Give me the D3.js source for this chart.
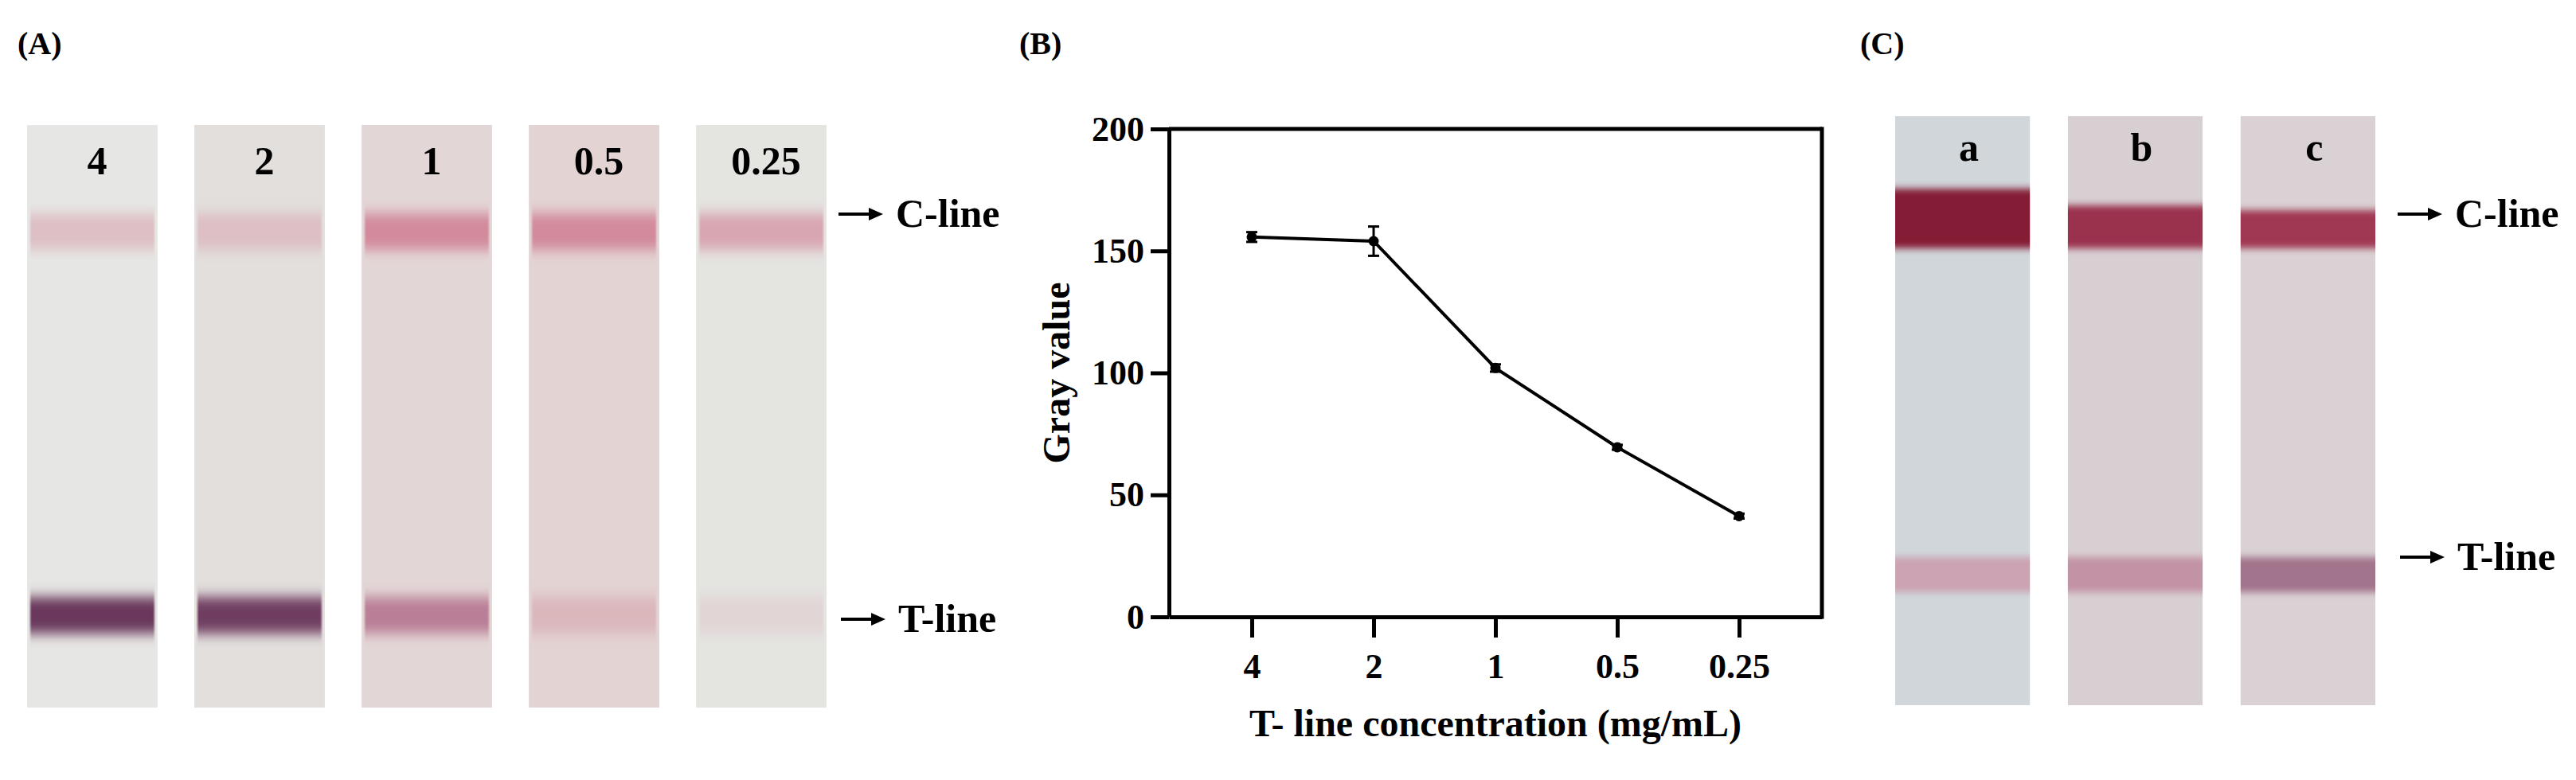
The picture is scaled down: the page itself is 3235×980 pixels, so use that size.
<!DOCTYPE html>
<html>
<head>
<meta charset="utf-8">
<script src="https://cdn.jsdelivr.net/npm/d3@7"></script>
<style>
  body { margin: 0; background: #fff; }
  text { font-family: "Liberation Serif", "Times New Roman", serif; font-weight: bold; fill: #000; }
</style>
</head>
<body>
<div id="fig"></div>
<script>
// Panel B data: gray value of the T-line per concentration
const concLabels = ["4", "2", "1", "0.5", "0.25"];
const grayValue = [155.7, 154, 102, 69.5, 41.3];
const grayErr = [2, 6, 1.5, 1, 1];
const yTicks = [0, 50, 100, 150, 200];

// Panel A strips: band intensity (0 = none, 1 = darkest)
const stripLabelsA = ["4", "2", "1", "0.5", "0.25"];
const cLineA = [0.2, 0.2, 0.62, 0.62, 0.4];
const tLineA = [0.95, 0.92, 0.55, 0.25, 0.05];

// Panel C strips
const stripLabelsC = ["a", "b", "c"];
const cLineC = [0.95, 0.74, 0.68];
const tLineC = [0.4, 0.55, 0.8];

const W = 3235, H = 980;

const svg = d3.select("#fig")
  .append("svg")
  .attr("width", W)
  .attr("height", H);

svg.append("rect").attr("width", W).attr("height", H).attr("fill", "#fff");

// soft vertical blur for the photographed bands
const defs = svg.append("defs");
defs.append("filter").attr("id", "softA")
  .attr("x", "-5%").attr("y", "-100%").attr("width", "110%").attr("height", "300%")
  .append("feGaussianBlur").attr("stdDeviation", "1 8");
defs.append("filter").attr("id", "softC")
  .attr("x", "-5%").attr("y", "-100%").attr("width", "110%").attr("height", "300%")
  .append("feGaussianBlur").attr("stdDeviation", "0.5 4");

// Panel labels
[["(A)", 22], ["(B)", 1280], ["(C)", 2336]].forEach(([t, x]) => {
  svg.append("text").attr("x", x).attr("y", 68).attr("font-size", 40).text(t);
});

// helper: arrow with label
function arrowLabel(x, y, label) {
  svg.append("line")
    .attr("x1", x).attr("x2", x + 40)
    .attr("y1", y).attr("y2", y)
    .attr("stroke", "#000").attr("stroke-width", 4);
  svg.append("path")
    .attr("d", `M${x + 56},${y} L${x + 38},${y - 8} L${x + 38},${y + 8} Z`)
    .attr("fill", "#000");
  svg.append("text")
    .attr("x", x + 72).attr("y", y + 16)
    .attr("font-size", 50)
    .text(label);
}

// ---------------- Panel A ----------------
const xA = d3.scaleBand()
  .domain(stripLabelsA)
  .range([34, 1038])
  .paddingInner(0.22);

const stripBgA = ["#e6e7e4", "#e2dfdd", "#e3d6d6", "#e3d3d3", "#e4e4e1"];

const cColorA = d3.scaleLinear().domain([0, 1]).range(["#e2d8d8", "#c85a78"]);
const tColorA = d3.scaleLinear()
  .domain([0, 0.3, 0.6, 1])
  .range(["#e3dcdc", "#d9b0b6", "#b47590", "#5e2f55"]);

const gA = svg.append("g");

gA.selectAll(".stripA")
  .data(stripLabelsA)
  .join("rect")
  .attr("class", "stripA")
  .attr("x", d => xA(d))
  .attr("y", 157)
  .attr("width", xA.bandwidth())
  .attr("height", 732)
  .attr("fill", (d, i) => stripBgA[i]);

gA.selectAll(".cA")
  .data(cLineA)
  .join("rect")
  .attr("class", "cA")
  .attr("x", (d, i) => xA(stripLabelsA[i]) + 4)
  .attr("y", 268)
  .attr("width", xA.bandwidth() - 8)
  .attr("height", 46)
  .attr("fill", d => cColorA(d))
  .attr("filter", "url(#softA)");

gA.selectAll(".tA")
  .data(tLineA)
  .join("rect")
  .attr("class", "tA")
  .attr("x", (d, i) => xA(stripLabelsA[i]) + 4)
  .attr("y", 750)
  .attr("width", xA.bandwidth() - 8)
  .attr("height", 46)
  .attr("fill", d => tColorA(d))
  .attr("filter", "url(#softA)");

gA.selectAll(".labA")
  .data(stripLabelsA)
  .join("text")
  .attr("class", "labA")
  .attr("x", d => xA(d) + xA.bandwidth() / 2 + 6)
  .attr("y", 219)
  .attr("text-anchor", "middle")
  .attr("font-size", 50)
  .text(d => d);

arrowLabel(1053, 269, "C-line");
arrowLabel(1056, 778, "T-line");

// ---------------- Panel B ----------------
const B = { left: 1468, right: 2288, top: 162, bottom: 775 };

const x = d3.scalePoint()
  .domain(concLabels)
  .range([B.left, B.right])
  .padding(0.68);

const y = d3.scaleLinear()
  .domain([0, 200])
  .range([B.bottom, B.top]);

const gB = svg.append("g");

// box top and right
gB.append("line")
  .attr("x1", B.left).attr("x2", B.right)
  .attr("y1", y(200)).attr("y2", y(200))
  .attr("stroke", "#000").attr("stroke-width", 5);
gB.append("line")
  .attr("x1", B.right).attr("x2", B.right)
  .attr("y1", y(200) - 2.5).attr("y2", y(0) + 2.5)
  .attr("stroke", "#000").attr("stroke-width", 5);

const yAxis = gB.append("g")
  .attr("transform", `translate(${B.left},0)`)
  .call(d3.axisLeft(y).tickValues(yTicks).tickSize(23).tickSizeOuter(0).tickPadding(8));

const xAxis = gB.append("g")
  .attr("transform", `translate(0,${B.bottom})`)
  .call(d3.axisBottom(x).tickSize(26).tickSizeOuter(0).tickPadding(20));

[yAxis, xAxis].forEach(ax => {
  ax.selectAll("path, line").attr("stroke", "#000").attr("stroke-width", 5);
  ax.selectAll("text")
    .attr("font-size", 44)
    .attr("font-family", "Liberation Serif, Times New Roman, serif")
    .attr("font-weight", "bold")
    .attr("fill", "#000");
});

// axis titles
gB.append("text")
  .attr("x", (B.left + B.right) / 2)
  .attr("y", 925)
  .attr("text-anchor", "middle")
  .attr("font-size", 48)
  .text("T- line concentration (mg/mL)");

gB.append("text")
  .attr("transform", `translate(1343,${(B.top + B.bottom) / 2}) rotate(-90)`)
  .attr("text-anchor", "middle")
  .attr("font-size", 48)
  .text("Gray value");

const pts = concLabels.map((c, i) => ({ c: c, v: grayValue[i], e: grayErr[i] }));

gB.append("path")
  .datum(pts)
  .attr("fill", "none")
  .attr("stroke", "#000")
  .attr("stroke-width", 4)
  .attr("d", d3.line().x(d => x(d.c)).y(d => y(d.v)));

// error bars
const eb = gB.selectAll(".err")
  .data(pts)
  .join("g")
  .attr("class", "err");

eb.append("line")
  .attr("x1", d => x(d.c)).attr("x2", d => x(d.c))
  .attr("y1", d => y(d.v - d.e)).attr("y2", d => y(d.v + d.e))
  .attr("stroke", "#000").attr("stroke-width", 3);

eb.selectAll(".cap")
  .data(d => [{ c: d.c, v: d.v - d.e }, { c: d.c, v: d.v + d.e }])
  .join("line")
  .attr("class", "cap")
  .attr("x1", d => x(d.c) - 7).attr("x2", d => x(d.c) + 7)
  .attr("y1", d => y(d.v)).attr("y2", d => y(d.v))
  .attr("stroke", "#000").attr("stroke-width", 3);

gB.selectAll(".pt")
  .data(pts)
  .join("circle")
  .attr("class", "pt")
  .attr("cx", d => x(d.c))
  .attr("cy", d => y(d.v))
  .attr("r", 6.5)
  .attr("fill", "#000");

// ---------------- Panel C ----------------
const xC = d3.scaleBand()
  .domain(stripLabelsC)
  .range([2380, 2983])
  .paddingInner(0.22);

const stripBgC = ["#d0d6da", "#d8cfd2", "#d9d1d3"];

const cColorC = d3.scaleLinear()
  .domain([0, 0.6, 1])
  .range(["#d5d0d3", "#a8405c", "#801530"]);
const tColorC = d3.scaleLinear()
  .domain([0, 0.5, 1])
  .range(["#d5d0d3", "#c898aa", "#8a5c78"]);

const gC = svg.append("g");

gC.selectAll(".stripC")
  .data(stripLabelsC)
  .join("rect")
  .attr("class", "stripC")
  .attr("x", d => xC(d))
  .attr("y", 146)
  .attr("width", xC.bandwidth())
  .attr("height", 740)
  .attr("fill", (d, i) => stripBgC[i]);

gC.selectAll(".cC")
  .data(cLineC)
  .join("rect")
  .attr("class", "cC")
  .attr("x", (d, i) => xC(stripLabelsC[i]))
  .attr("y", d => 312 - 50 * (1 + (d - 0.7) * 2))
  .attr("width", xC.bandwidth())
  .attr("height", d => 50 * (1 + (d - 0.7) * 2))
  .attr("fill", d => cColorC(d))
  .attr("filter", "url(#softC)");

gC.selectAll(".tC")
  .data(tLineC)
  .join("rect")
  .attr("class", "tC")
  .attr("x", (d, i) => xC(stripLabelsC[i]))
  .attr("y", 700)
  .attr("width", xC.bandwidth())
  .attr("height", 44)
  .attr("fill", d => tColorC(d))
  .attr("filter", "url(#softC)");

gC.selectAll(".labC")
  .data(stripLabelsC)
  .join("text")
  .attr("class", "labC")
  .attr("x", d => xC(d) + xC.bandwidth() / 2 + 8)
  .attr("y", 202)
  .attr("text-anchor", "middle")
  .attr("font-size", 50)
  .text(d => d);

arrowLabel(3011, 269, "C-line");
arrowLabel(3014, 700, "T-line");
</script>
</body>
</html>
